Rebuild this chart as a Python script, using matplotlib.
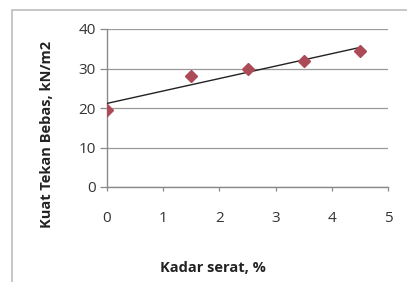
import matplotlib
matplotlib.use("Agg")
import matplotlib.pyplot as plt
import numpy as np
from matplotlib.patches import Rectangle

kadar = [0, 1.5, 2.5, 3.5, 4.5]
kuat = [19.5, 28.0, 29.8, 31.8, 34.5]
xticks = [0, 1, 2, 3, 4, 5]
yticks = [0, 10, 20, 30, 40]

plt.rcParams['font.family'] = ['Open Sans', 'DejaVu Sans']

W, H = 407, 282
fig = plt.figure(figsize=(W/100, H/100), dpi=100)
fig.patch.set_facecolor('white')
fig.add_artist(Rectangle((12/W, -0.1), 1.2, 1 - 10/H + 0.1, transform=fig.transFigure,
                         fill=False, edgecolor='#BDBDBD', linewidth=1.2))
ax = fig.add_axes([107/W, 1 - 187/H, (388 - 107)/W, (187 - 29)/H])

coef = np.polyfit(kadar, kuat, 1)
xs = np.array([kadar[0], kadar[-1]])
ax.plot(xs, np.polyval(coef, xs), color='#222222', linewidth=1.0, zorder=3)
ax.plot(kadar, kuat, linestyle='none', marker='D', markersize=6.5,
        color='#AD4A58', markeredgecolor='#AD4A58', zorder=4)

ax.set_xlim(0, 5)
ax.set_ylim(0, 40)
ax.set_xticks(xticks)
ax.set_yticks(yticks)
ax.grid(axis='y', color='#9A9A9A', linewidth=0.9)
ax.set_axisbelow(True)
for s in ['top', 'right']:
    ax.spines[s].set_visible(False)
for s in ['left', 'bottom']:
    ax.spines[s].set_color('#8A8A8A')
    ax.spines[s].set_linewidth(1.0)
ax.tick_params(axis='both', colors='#8A8A8A', labelcolor='#333333', labelsize=11,
               direction='out', width=0.9)
ax.tick_params(axis='y', length=5, pad=3)
ax.tick_params(axis='x', length=3, pad=14)

fig.text(213/W, 1 - 268/H, 'Kadar serat, %', fontsize=10.5, fontweight='bold',
         color='#222222', ha='center', va='center')
fig.text(47/W, 1 - 134/H, 'Kuat Tekan Bebas, kN/m2', fontsize=10.5, fontweight='bold',
         color='#222222', ha='center', va='center', rotation=90)

fig.savefig('out.png', dpi=100)
